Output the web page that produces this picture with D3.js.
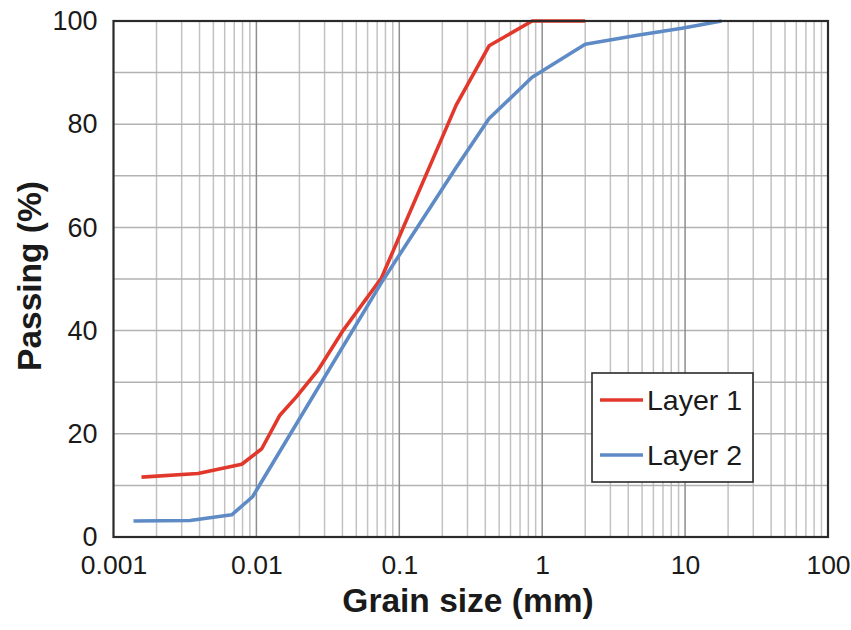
<!DOCTYPE html>
<html><head><meta charset="utf-8">
<script src="https://cdn.jsdelivr.net/npm/d3@7"></script>
<style>body{margin:0;background:#fff}svg{display:block}</style>
</head><body>
<script>
const layer1Size = [0.00157,0.0039,0.0079,0.0109,0.0146,0.0191,0.0271,0.0406,0.075,0.25,0.425,0.85,2.0];
const layer1Pass = [11.6,12.3,14.1,17.1,23.6,27.2,32.4,40.1,50.2,83.7,95.2,100,100];
const layer2Size = [0.00138,0.00343,0.00672,0.0094,0.075,0.25,0.425,0.85,2.0,4.75,9.5,18];
const layer2Pass = [3.1,3.2,4.3,7.8,49.3,71.6,81.1,89.1,95.5,97.3,98.6,100];
const xTicks = [0.001,0.01,0.1,1,10,100];
const xTickLabels = ["0.001","0.01","0.1","1","10","100"];
const yTicks = [0,20,40,60,80,100];
const seriesNames = ["Layer 1","Layer 2"];
const seriesColors = ["#e2382c","#5e8bc6"];

const W=851,H=630;
const m={l:113.5,r:W-828,t:21,b:H-537};
const svg=d3.select("body").append("svg").attr("width",W).attr("height",H);
const x=d3.scaleLog().domain([0.001,100]).range([m.l,W-m.r]);
const y=d3.scaleLinear().domain([0,100]).range([H-m.b,m.t]);
const g=svg.append("g");
const minor=[];
for(let e=-3;e<2;e++){for(let k=2;k<=9;k++)minor.push(k*Math.pow(10,e));}
g.selectAll(".vmin").data(minor).join("line")
 .attr("x1",d=>x(d)).attr("x2",d=>x(d)).attr("y1",y(0)).attr("y2",y(100))
 .attr("stroke","#c2c2c2").attr("stroke-width",1.5);
g.selectAll(".hg").data(d3.range(10,100,10)).join("line")
 .attr("x1",x(0.001)).attr("x2",x(100)).attr("y1",d=>y(d)).attr("y2",d=>y(d))
 .attr("stroke","#b2b2b2").attr("stroke-width",1.5);
g.selectAll(".vmaj").data(xTicks.slice(1,-1)).join("line")
 .attr("x1",d=>x(d)).attr("x2",d=>x(d)).attr("y1",y(0)).attr("y2",y(100))
 .attr("stroke","#8e8e8e").attr("stroke-width",1.5);

const xAxis=d3.axisBottom(x).tickValues(xTicks).tickFormat((d,i)=>xTickLabels[i]).tickSize(0).tickPadding(18);
const xa=svg.append("g").attr("transform",`translate(0,${y(0)})`).call(xAxis);
xa.select(".domain").remove();
xa.selectAll("text").attr("font-family","Liberation Sans, Arial, sans-serif").attr("font-size",26.5).attr("fill","#1a1a1a");
const yAxis=d3.axisLeft(y).tickValues(yTicks).tickSize(0).tickPadding(16);
const ya=svg.append("g").attr("transform",`translate(${x(0.001)},0)`).call(yAxis);
ya.select(".domain").remove();
ya.selectAll("text").attr("font-family","Liberation Sans, Arial, sans-serif").attr("font-size",27).attr("fill","#1a1a1a");

const line=d3.line().x(d=>x(d[0])).y(d=>y(d[1]));
const series=[d3.zip(layer1Size,layer1Pass),d3.zip(layer2Size,layer2Pass)];
svg.selectAll(".ser").data(series).join("path")
 .attr("d",line).attr("fill","none").attr("stroke",(d,i)=>seriesColors[i])
 .attr("stroke-width",3.6).attr("stroke-linejoin","round");

svg.append("rect").attr("x",x(0.001)).attr("y",y(100)).attr("width",x(100)-x(0.001)).attr("height",y(0)-y(100))
 .attr("fill","none").attr("stroke","#2a2a2a").attr("stroke-width",2.2);

const lg=svg.append("g");
lg.append("rect").attr("x",592).attr("y",373).attr("width",161).attr("height",109)
 .attr("fill","#fff").attr("stroke","#2a2a2a").attr("stroke-width",1.6);
seriesNames.forEach((n,i)=>{
  const yy=400+i*55;
  lg.append("line").attr("x1",600).attr("x2",643).attr("y1",yy).attr("y2",yy)
   .attr("stroke",seriesColors[i]).attr("stroke-width",3.6);
  lg.append("text").attr("x",647).attr("y",yy+10).text(n)
   .attr("font-family","Liberation Sans, Arial, sans-serif").attr("font-size",28.5).attr("fill","#1a1a1a");
});

svg.append("text").attr("x",468).attr("y",612).attr("text-anchor","middle").text("Grain size (mm)")
 .attr("font-family","Liberation Sans, Arial, sans-serif").attr("font-weight","bold").attr("font-size",33.5).attr("fill","#1a1a1a");
svg.append("text").attr("transform",`translate(41,276) rotate(-90)`).attr("text-anchor","middle").text("Passing (%)")
 .attr("font-family","Liberation Sans, Arial, sans-serif").attr("font-weight","bold").attr("font-size",33.5).attr("fill","#1a1a1a");
</script>
</body></html>
